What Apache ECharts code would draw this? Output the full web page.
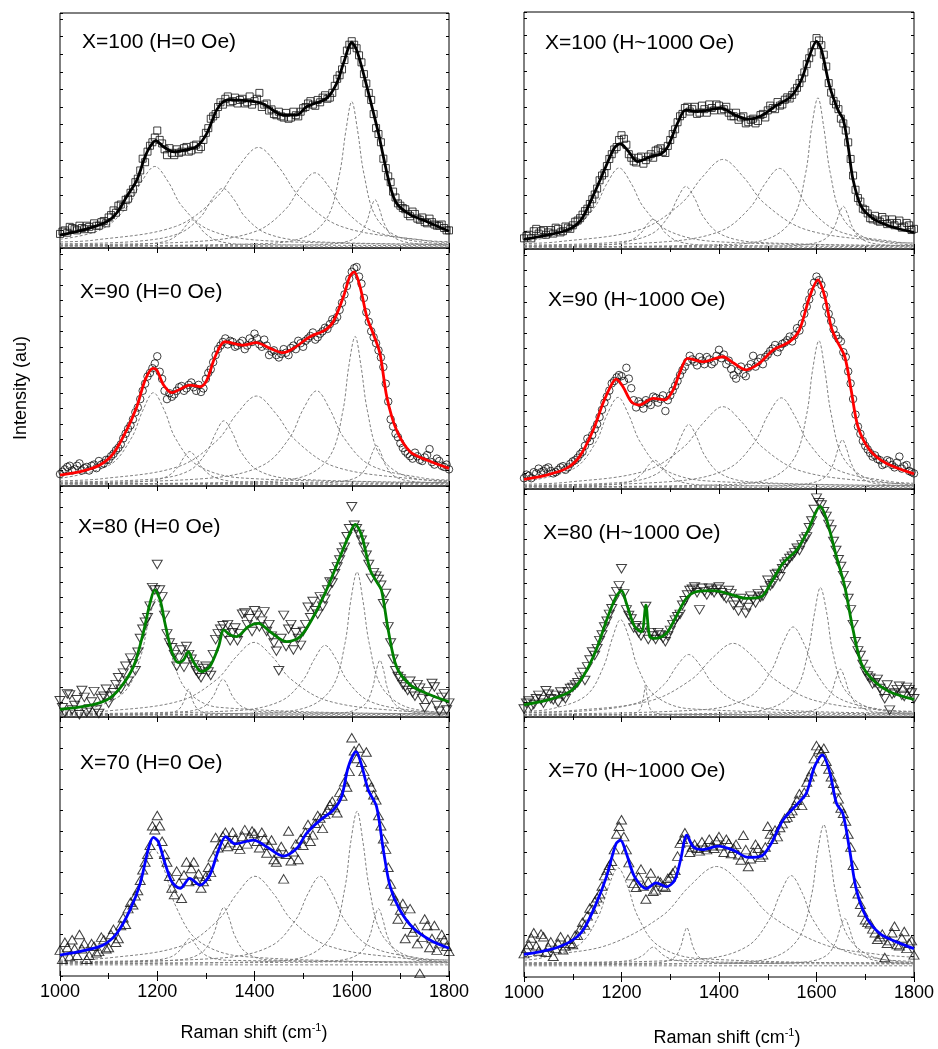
<!DOCTYPE html>
<html>
<head>
<meta charset="utf-8">
<title>Raman spectra</title>
<script src="https://cdn.jsdelivr.net/npm/echarts@6/dist/echarts.min.js"></script>
<style>
  html, body { margin: 0; padding: 0; background: #fff; }
  #chart { width: 938px; height: 1049px; }
</style>
</head>
<body>
<div id="chart"></div>
<script>
// Raman shift grids of the measured spectra (cm-1): whole tens and the points in between
const shift = [
  1000, 1010, 1020, 1030, 1040, 1050, 1060, 1070, 1080, 1090,
  1100, 1110, 1120, 1130, 1140, 1150, 1160, 1170, 1180, 1190,
  1200, 1210, 1220, 1230, 1240, 1250, 1260, 1270, 1280, 1290,
  1300, 1310, 1320, 1330, 1340, 1350, 1360, 1370, 1380, 1390,
  1400, 1410, 1420, 1430, 1440, 1450, 1460, 1470, 1480, 1490,
  1500, 1510, 1520, 1530, 1540, 1550, 1560, 1570, 1580, 1590,
  1600, 1610, 1620, 1630, 1640, 1650, 1660, 1670, 1680, 1690,
  1700, 1710, 1720, 1730, 1740, 1750, 1760, 1770, 1780, 1790,
  1800
];
const shiftMid = [
  1005, 1015, 1025, 1035, 1045, 1055, 1065, 1075, 1085, 1095,
  1105, 1115, 1125, 1135, 1145, 1155, 1165, 1175, 1185, 1195,
  1205, 1215, 1225, 1235, 1245, 1255, 1265, 1275, 1285, 1295,
  1305, 1315, 1325, 1335, 1345, 1355, 1365, 1375, 1385, 1395,
  1405, 1415, 1425, 1435, 1445, 1455, 1465, 1475, 1485, 1495,
  1505, 1515, 1525, 1535, 1545, 1555, 1565, 1575, 1585, 1595,
  1605, 1615, 1625, 1635, 1645, 1655, 1665, 1675, 1685, 1695,
  1705, 1715, 1725, 1735, 1745, 1755, 1765, 1775, 1785, 1795
];

// ---- measured intensities (au), H = 0 Oe column ----
const scatA100 = [
  6, 7.5, 9, 8, 9.5, 8, 9, 10.5, 9.5, 11.5,
  13, 16, 18, 17.5, 21, 25, 29.5, 38, 41, 45,
  50, 44.5, 39.5, 40.5, 42, 41, 43, 41.5, 44, 43,
  49, 55, 57, 62, 63.5, 62, 64, 63, 61.5, 64.5,
  62.5, 66, 61, 58.5, 57, 58, 55.5, 55, 58, 56,
  59.5, 61.5, 61, 63, 64, 63.5, 66, 72, 76, 84,
  88, 85, 79, 70, 63, 51, 45, 34, 28, 21.5,
  18, 16.5, 13.5, 14.5, 12, 11, 12.5, 10, 9.5, 8.5,
  7.5
];
const scatA100m = [
  7, 6.5, 8.5, 7.5, 8.5, 9.5, 8, 9.5, 11, 10.5,
  14, 15, 18.5, 20.5, 23.5, 28, 33, 36.5, 43.5, 47,
  46, 42, 42.5, 39.5, 40.5, 42.5, 41, 43.5, 42, 46,
  51, 56, 60, 61, 64.5, 62.5, 61.5, 63.5, 62, 61,
  63.5, 60, 61.5, 59, 56.5, 56, 57.5, 55.5, 56.5, 58,
  60, 62.5, 60.5, 62, 65, 64, 69, 73.5, 80, 86.5,
  86.5, 82, 74, 66, 57, 48.5, 38, 30.5, 24, 19,
  17, 14.5, 15.5, 12.5, 13, 10.5, 11, 9.5, 10, 7.5
];
const scatA90 = [
  5, 7, 8.5, 7, 9.5, 7.5, 6.5, 9, 10.5, 9.5,
  11, 13.5, 16, 20, 24, 28, 33, 40, 46, 49.5,
  54.5, 45, 36.5, 37.5, 40, 42, 41, 43.5, 40, 39.5,
  45, 49, 55, 59, 62, 61, 58.5, 60, 57.5, 62,
  64, 59.5, 61.5, 55, 57, 54, 57.5, 55, 59, 61,
  58.5, 62, 64.5, 62.5, 65, 66, 70, 71, 77, 84,
  90, 92, 85, 73, 65, 60, 54, 43, 28, 22,
  18, 14.5, 12.5, 14, 11, 12, 15.5, 9, 10.5, 8,
  7
];
const scatA90m = [
  6, 8, 6.5, 8.5, 6.5, 8, 8.5, 7.5, 9, 11,
  12.5, 15, 17.5, 22, 25.5, 31, 36.5, 43, 47.5, 51.5,
  48, 40, 39, 38.5, 41.5, 40, 42.5, 41.5, 42.5, 41,
  47.5, 52, 57.5, 60.5, 59.5, 60.5, 59, 61, 59, 60.5,
  62, 58.5, 59, 56.5, 55, 55.5, 56, 58, 57.5, 60,
  61, 63, 61.5, 64, 66.5, 68, 69.5, 74, 80.5, 87,
  91.5, 88, 79, 69, 62.5, 57, 50, 35.5, 25, 20.5,
  16, 13.5, 11.5, 12.5, 10.5, 13, 10, 11.5, 8.5, 9
];
const scatA80 = [
  7, 2, 9.5, 5, 1, 8.5, 3.5, 11, 1.5, 9,
  6, 10.5, 17, 19, 15.5, 23, 28, 38, 43, 56,
  66, 52, 36, 30, 22, 29, 30.5, 25, 20, 17,
  22, 18, 33.5, 38, 36, 33, 38.5, 36, 45, 42.5,
  46, 39, 45.5, 40, 32, 20, 44, 38, 29, 34,
  37, 47.5, 50, 44.5, 48, 55, 58, 65, 71, 78,
  91, 81.5, 76.5, 70, 60, 61, 57, 53.5, 32, 20,
  16.5, 13, 15.5, 9, 12.5, 4, 7.5, 13, 2.5, 10,
  6
];
const scatA80m = [
  4, 10, 3, 7.5, 11.5, 2, 6.5, 3, 8, 12,
  9, 14, 12, 22, 25.5, 20, 34, 41, 48, 55,
  55, 44, 32, 27, 25.5, 21.5, 27, 22.5, 18.5, 21,
  19.5, 27, 36, 39.5, 40, 36.5, 33, 44.5, 40, 37,
  44, 41.5, 37, 35, 28.5, 34, 30.5, 40, 36.5, 31,
  40, 43, 46, 52, 51, 58.5, 62, 68, 73.5, 81.5,
  83, 79, 73.5, 66, 62.5, 59.5, 49, 39, 25, 17.5,
  14, 11.5, 10.5, 14, 8, 11, 14.5, 5, 8.5, 3
];
const scatA70 = [
  10, 13, 7.5, 10.5, 16, 12.5, 8, 11.5, 9.5, 14,
  11, 18, 14.5, 22.5, 26, 27.5, 33, 41, 47, 58,
  62, 52, 44, 34, 40.5, 30, 44, 41.5, 37, 34,
  38.5, 40, 53.5, 51, 55.5, 51.5, 53, 49, 56.5, 54,
  55, 49.5, 53, 50.5, 45, 47.5, 37.5, 56, 48, 45,
  50.5, 58.5, 54.5, 62, 57, 64, 67.5, 63, 69.5, 73,
  92, 84, 82.5, 86.5, 73, 68, 58, 49, 35.5, 29,
  25.5, 14.5, 26, 18.5, 1, 22, 11, 19.5, 12.5, 14,
  9.5
];
const scatA70m = [
  6.5, 11, 14, 8, 10.5, 6.5, 12.5, 9, 15, 10.5,
  16, 13, 19.5, 20, 28.5, 31, 37, 44, 50.5, 56.5,
  58, 47, 38.5, 31.5, 36, 39, 36.5, 44, 39.5, 36.5,
  42, 46, 49.5, 54, 50, 55.5, 50.5, 54, 51, 56,
  52, 55.5, 47.5, 52.5, 44, 50, 47, 44.5, 51, 53,
  55.5, 52, 59, 61, 62.5, 66, 65, 71, 75, 79,
  87, 88, 79, 75, 70, 62, 53, 42, 31, 22,
  28, 20, 17, 12.5, 15, 19.5, 14.5, 10, 16, 11.5
];

// ---- measured intensities (au), H ~ 1000 Oe column ----
const scatB100 = [
  4.5, 6, 7.5, 6.5, 8, 7, 6.5, 8.5, 7.5, 9,
  10, 12, 14.5, 17, 21, 25.5, 31, 35, 40, 43,
  48, 44, 38.5, 36.5, 39, 37.5, 40, 41.5, 42.5, 40.5,
  46, 50.5, 56, 59.5, 58, 60, 57.5, 59, 61, 58.5,
  60.5, 59, 57.5, 56, 54.5, 56, 53.5, 55, 54, 57,
  58.5, 59.5, 62, 61, 64, 65, 68, 72, 78, 83,
  89, 86, 77, 66, 61, 55, 50, 38, 25, 20,
  16.5, 13, 14, 11.5, 12.5, 11, 10, 12, 9.5, 10,
  8.5
];
const scatB100m = [
  5.5, 4.5, 8.5, 7.5, 6, 8, 9, 7, 9.5, 8.5,
  11.5, 13, 16, 19, 23, 29, 32, 38, 42, 46,
  46.5, 40, 37, 38.5, 36, 39, 38.5, 42, 41, 43.5,
  48.5, 53.5, 57, 60, 59, 57, 60.5, 57.5, 59.5, 61,
  58.5, 60, 56, 57.5, 55.5, 53, 54.5, 53, 56.5, 55.5,
  60.5, 59, 60.5, 63, 63.5, 66.5, 70, 74.5, 80.5, 86,
  88, 82, 70, 62.5, 59, 53, 45, 31, 21.5, 17,
  15, 12.5, 12, 13.5, 10.5, 12.5, 11, 9, 11, 8
];
const scatB90 = [
  4.5, 5.5, 7, 8.5, 7.5, 9, 6.5, 8, 9.5, 9,
  11.5, 13, 15.5, 21, 22.5, 27, 33, 38.5, 44, 46.5,
  47, 50.5, 42, 34, 35.5, 37, 35, 38, 37.5, 32.5,
  39, 43, 47.5, 51, 55.5, 53, 55, 52, 54, 53,
  58, 56, 53.5, 47.5, 49.5, 48, 50.5, 55.5, 53, 52,
  56, 58.5, 57, 60.5, 62, 61.5, 67, 69, 76, 82,
  88.5, 85, 76, 70, 64, 61.5, 55, 44, 31, 23,
  18, 15, 14, 12, 10.5, 11.5, 9, 13.5, 9.5, 7.5,
  6.5
];
const scatB90m = [
  6, 4.5, 6.5, 7, 8.5, 7.5, 7, 9, 8, 10.5,
  12, 14.5, 18, 20, 25, 30, 36, 41, 45, 47.5,
  45, 46, 37, 36.5, 33.5, 36, 38.5, 36, 39, 37,
  41, 45, 49.5, 53, 54, 51.5, 53.5, 55, 52, 55.5,
  54.5, 52, 50, 46, 51, 47, 52, 51, 54.5, 55,
  57.5, 60, 59, 61, 63.5, 64, 66, 73, 79, 86,
  87, 81, 73, 66.5, 62.5, 57, 49, 37.5, 26, 20,
  16.5, 13.5, 12.5, 10, 12, 10, 11, 8.5, 10, 7
];
const scatB80 = [
  3.5, 7, 5.5, 9.5, 6, 10, 7.5, 6.5, 9, 11,
  13, 15, 19.5, 22, 28.5, 30, 36, 42, 47.5, 55,
  65, 47, 43, 40, 35.5, 48.5, 37, 34, 36, 33,
  38, 42.5, 45, 51, 55.5, 57, 47, 55, 56.5, 54.5,
  57, 53, 55.5, 49, 46.5, 50.5, 48, 51.5, 54, 53,
  60, 58.5, 63, 65, 68, 70.5, 74, 75.5, 79, 86,
  96, 93, 88, 82, 73, 66, 57.5, 47, 33, 27,
  20, 17, 15, 12.5, 8, 3, 10.5, 13.5, 9, 12,
  8
];
const scatB80m = [
  6, 4.5, 8, 7.5, 11.5, 8, 9.5, 11, 8, 12.5,
  14, 17.5, 16, 25, 27, 33.5, 39.5, 45, 51.5, 57.5,
  54, 44.5, 39, 37, 39, 34, 35.5, 37, 34.5, 35.5,
  40.5, 44, 49, 53.5, 56, 54.5, 56.5, 53.5, 55.5, 56,
  54.5, 52, 54, 50.5, 52, 45.5, 53, 50, 52.5, 55.5,
  57.5, 62.5, 61.5, 67, 69.5, 72, 73, 78, 83, 91,
  94, 90, 84.5, 77, 69, 62, 52, 40.5, 29, 23,
  18, 14.5, 16.5, 11, 14, 10, 12, 9.5, 13, 10.5
];
const scatB70 = [
  9, 12.5, 17, 10, 15.5, 11.5, 8, 13, 10.5, 14.5,
  12.5, 16, 21, 23.5, 26, 30.5, 35, 41, 44.5, 55,
  60.5, 49, 39, 34.5, 41.5, 30, 40, 33.5, 36.5, 34.5,
  38.5, 41, 51.5, 55.5, 48, 51, 48.5, 50, 53, 49.5,
  54, 48, 51.5, 49.5, 47, 54.5, 42.5, 48, 49.5, 47,
  58, 53, 54, 59, 61.5, 64, 68, 66, 75, 79,
  89, 86.5, 83, 77, 72, 65, 60, 50, 36, 28,
  22, 20.5, 17, 15.5, 7.5, 14, 19.5, 12, 17.5, 13,
  8.5
];
const scatB70m = [
  11, 15, 12, 16.5, 9.5, 13.5, 11, 15.5, 12, 13,
  16, 18.5, 20, 26.5, 29, 32, 39, 43, 49, 58,
  54, 44, 36, 38.5, 35, 36.5, 33, 37, 35, 38,
  40, 46.5, 53, 52, 50, 49.5, 52, 49, 50.5, 52.5,
  50.5, 53, 47.5, 51, 45, 49, 45.5, 51, 46, 50,
  55, 56.5, 57.5, 61, 63, 66, 70.5, 71, 77, 84,
  87.5, 88, 80, 74.5, 68.5, 63, 55, 43, 32, 25,
  21, 18.5, 14.5, 16.5, 13, 17, 12.5, 15, 11, 14
];

// ---- fitted envelopes [shift, intensity] ----
const fitA100 = [[1000,5.5],[1048,7.7],[1096,11.2],[1117,15],[1137,21.8],[1158,28.9],[1175,38.9],[1185,43.1],[1197,45.7],[1212,43.2],[1233,41],[1260,41.8],[1281,43.1],[1302,48.8],[1322,58.7],[1336,62.3],[1350,63],[1391,62.5],[1418,61.3],[1459,56.6],[1487,56.6],[1507,60.1],[1548,63.7],[1569,70.1],[1583,78.6],[1600,87.4],[1610,84.3],[1624,74.3],[1638,63],[1655,48.8],[1665,38.9],[1679,26.2],[1692,19.1],[1720,14.2],[1754,11.3],[1800,7.1]];
const fitA90 = [[1000,4.6],[1048,6.4],[1082,8.8],[1110,13.7],[1137,23.5],[1158,33.3],[1175,44.5],[1191,49.4],[1199,48.7],[1213,42.4],[1230,39.2],[1250,41],[1267,42.4],[1288,41.7],[1302,44.5],[1319,54.3],[1339,60.6],[1377,59.2],[1404,60.2],[1432,57.8],[1459,56],[1480,57.8],[1514,62.7],[1545,65.5],[1562,69],[1583,79.6],[1596,88],[1605,90],[1617,83.8],[1631,71.1],[1644,64.1],[1658,55.7],[1672,37.5],[1692,23.5],[1720,14.4],[1754,10.9],[1800,7.4]];
const fitA80 = [[1000,3.3],[1055,4.8],[1096,7.4],[1123,12.4],[1151,21.8],[1171,36.2],[1185,49.2],[1195,55],[1206,50.6],[1216,40.5],[1230,28.3],[1243,23.5],[1254,24.7],[1264,28.3],[1274,24],[1291,19.6],[1308,21.8],[1326,30.4],[1337,37.7],[1350,35.5],[1363,34.8],[1387,39.1],[1408,40.5],[1432,36.9],[1466,32.6],[1494,34.8],[1521,43.4],[1548,55],[1576,69.4],[1596,79.5],[1607,83.4],[1620,78.8],[1638,63.6],[1651,58.6],[1661,55],[1675,37.7],[1692,21.8],[1720,13.9],[1754,10.2],[1800,6.6]];
const fitA70 = [[1000,8.1],[1048,9.8],[1089,12],[1117,16.5],[1144,25.5],[1165,35.8],[1182,49.3],[1192,53.5],[1202,51.9],[1216,43.5],[1230,36.4],[1247,33.8],[1267,37.7],[1288,35.1],[1308,39],[1326,48.6],[1341,53.8],[1360,51],[1398,52.5],[1425,49.9],[1459,46.3],[1487,49.3],[1507,55.1],[1535,60.2],[1562,64.1],[1579,69.2],[1593,80.8],[1609,86.6],[1620,81.5],[1634,71.8],[1651,65.4],[1665,48.6],[1679,34.5],[1699,25.5],[1727,18.4],[1761,13.9],[1800,10.7]];
const fitB100 = [[1000,4.1],[1048,5.9],[1089,8],[1117,12.3],[1144,23.5],[1165,33.4],[1185,42.5],[1197,44.4],[1212,41.8],[1233,36.9],[1260,39],[1281,40.1],[1295,43.2],[1315,53.1],[1332,58.7],[1356,58],[1404,59.4],[1432,56.6],[1459,54.8],[1487,56.2],[1514,60.1],[1548,64.4],[1569,71.4],[1583,79.9],[1600,87.6],[1610,84.1],[1627,68.6],[1644,58.7],[1655,54.5],[1665,43.2],[1675,29.2],[1692,17.9],[1720,12.3],[1754,9.4],[1800,7]];
const fitB90 = [[1000,4],[1046,5.8],[1087,8.6],[1114,13.5],[1142,24.6],[1162,35.7],[1179,43.3],[1189,45.8],[1203,42.6],[1220,36.4],[1237,35],[1265,37.8],[1289,37.1],[1306,41.3],[1319,48.2],[1336,54.4],[1367,53],[1408,55.1],[1429,52.6],[1456,49.6],[1483,52.4],[1511,57.9],[1545,61.4],[1565,66.3],[1586,80.1],[1603,87.1],[1617,80.1],[1630,67.6],[1641,62.1],[1658,55.1],[1671,41.3],[1685,26],[1709,16.3],[1743,10.7],[1800,6.3]];
const fitB80 = [[1000,5.3],[1053,7.7],[1094,11.1],[1121,17.7],[1148,29.4],[1172,44],[1189,52.8],[1200,55.4],[1210,49.9],[1227,39.6],[1241,37.4],[1250,49.1],[1258,35.2],[1271,34.5],[1292,36.7],[1312,44],[1333,52],[1354,55],[1388,55.4],[1422,53.9],[1456,52],[1487,52.8],[1504,57.9],[1531,67.4],[1559,73.2],[1583,82],[1596,88.6],[1607,92.5],[1620,87.1],[1641,70.3],[1658,57.2],[1675,38.2],[1692,23.5],[1716,16.2],[1750,11.1],[1800,7.7]];
const fitB70 = [[1000,8.7],[1053,10.5],[1094,13.5],[1121,18],[1148,28.2],[1169,38.5],[1189,51.3],[1198,52.6],[1210,47.5],[1227,38.5],[1251,34],[1271,36.2],[1292,34.7],[1309,37.2],[1321,44.9],[1334,54.6],[1347,50.1],[1367,49],[1398,50.3],[1429,48.8],[1460,46],[1487,46.5],[1507,51.3],[1531,60.3],[1562,66.8],[1579,70.6],[1596,80.9],[1612,85.4],[1627,78.9],[1641,66.8],[1654,62.9],[1668,48.8],[1682,33.4],[1702,23.1],[1730,16.7],[1764,13.5],[1800,10.9]];

// ---- fitted components (dashed), each list is [shift, intensity] ----
const compA100 = [
  [[1000,3.7],[1085,7.9],[1140,18],[1167,28],[1195,34.7],[1223,28],[1250,18],[1305,7.9],[1415,3.2],[1800,1.5]],
  [[1000,1.1],[1172,1.6],[1222,3.2],[1247,6.5],[1260,9.8],[1272,12],[1284,9.8],[1297,6.5],[1322,3.2],[1372,1.6],[1800,1]],
  [[1000,1.8],[1155,2.8],[1245,6.2],[1290,13.4],[1312,20.6],[1335,25.4],[1358,20.6],[1380,13.4],[1425,6.2],[1515,2.8],[1800,1.6]],
  [[1000,2.6],[1068,3.3],[1238,9.2],[1323,21.8],[1366,34.4],[1408,42.8],[1450,34.4],[1493,21.8],[1578,9.2],[1748,3.3],[1800,2.7]],
  [[1000,1.4],[1284,2.8],[1404,7.2],[1464,16.5],[1494,25.8],[1524,32],[1554,25.8],[1584,16.5],[1644,7.2],[1764,2.8],[1800,2.4]],
  [[1000,0.9],[1400,1.75],[1500,4.4],[1550,13.1],[1575,31.6],[1588,50],[1600,62.3],[1612,50],[1625,31.6],[1650,13.1],[1700,4.4],[1800,1.75]],
  [[1000,1],[1500,1.3],[1576,2.15],[1612,4.9],[1630,10.75],[1639,16.6],[1648,20.5],[1657,16.6],[1666,10.75],[1684,4.9],[1720,2.15],[1800,1.3]],
  [[1000,0.5],[1800,0.5]]
];
const compA90 = [
  [[1000,3.2],[1102,8.8],[1147,20.2],[1170,31.6],[1192,39.2],[1215,31.6],[1237,20.2],[1282,8.8],[1372,3.4],[1800,1.4]],
  [[1000,1.1],[1167,1.8],[1217,3.7],[1242,7.75],[1254,11.8],[1267,14.5],[1280,11.8],[1292,7.75],[1317,3.7],[1367,1.8],[1800,1]],
  [[1000,1.7],[1197,3],[1267,6.6],[1302,14.4],[1320,22.2],[1337,27.4],[1355,22.2],[1372,14.4],[1407,6.6],[1477,3],[1800,1.5]],
  [[1000,2.2],[1084,3],[1244,8.2],[1324,19.3],[1364,30.4],[1404,37.8],[1444,30.4],[1484,19.3],[1564,8.2],[1724,3],[1800,2.2]],
  [[1000,1.4],[1308,3.3],[1418,8.8],[1473,20.5],[1500,32.2],[1528,40],[1555,32.2],[1583,20.5],[1638,8.8],[1748,3.3],[1800,2.5]],
  [[1000,0.9],[1407,1.75],[1507,4.45],[1557,13.2],[1582,31.8],[1594,50.4],[1607,62.8],[1619,50.4],[1632,31.8],[1657,13.2],[1707,4.45],[1800,1.8]],
  [[1000,1],[1500,1.2],[1579,1.95],[1615,4.2],[1633,9],[1642,13.8],[1651,17],[1660,13.8],[1669,9],[1687,4.2],[1723,1.95],[1800,1.2]],
  [[1000,0.5],[1800,0.5]]
];
const compA80 = [
  [[1000,2.5],[1070,4.2],[1134,11.2],[1166,26.2],[1182,41.2],[1198,51.2],[1214,41.2],[1230,26.2],[1262,11.2],[1326,4.2],[1800,1.3]],
  [[1000,1],[1180,1.15],[1224,1.65],[1244,3.2],[1254,6.5],[1259,9.8],[1264,12],[1269,9.8],[1274,6.5],[1284,3.2],[1304,1.65],[1800,1]],
  [[1000,1.45],[1255,2.3],[1295,4.4],[1315,8.9],[1325,13.4],[1335,16.4],[1345,13.4],[1355,8.9],[1375,4.4],[1415,2.3],[1800,1.45]],
  [[1000,1.9],[1099,2.65],[1249,7.1],[1324,16.55],[1362,26],[1399,32.3],[1437,26],[1474,16.55],[1549,7.1],[1699,2.65],[1800,2]],
  [[1000,1.2],[1365,2.8],[1455,7],[1500,16],[1523,25],[1545,31],[1568,25],[1590,16],[1635,7],[1725,2.8],[1800,1.9]],
  [[1000,0.9],[1411,1.75],[1511,4.45],[1561,13.2],[1586,31.8],[1598,50.4],[1611,62.8],[1623,50.4],[1636,31.8],[1661,13.2],[1711,4.45],[1800,1.9]],
  [[1000,1],[1550,1.45],[1598,2.4],[1628,5.7],[1643,12.75],[1650,19.8],[1658,24.5],[1666,19.8],[1673,12.75],[1688,5.7],[1718,2.4],[1800,1.25]],
  [[1000,0.5],[1800,0.5]]
];
const compA70 = [
  [[1000,7.3],[1103,13.8],[1148,27],[1170,40.2],[1193,49],[1216,40.2],[1238,27],[1283,13.8],[1373,7.6],[1800,5.25]],
  [[1000,5.55],[1187,6.05],[1227,7.3],[1247,10],[1257,12.7],[1267,14.5],[1277,12.7],[1287,10],[1307,7.3],[1347,6.05],[1800,5.5]],
  [[1000,5.1],[1249,6.3],[1293,9.3],[1315,15.75],[1326,22.2],[1337,26.5],[1348,22.2],[1359,15.75],[1381,9.3],[1425,6.3],[1800,5.05]],
  [[1000,6.1],[1101,7],[1251,11.7],[1326,21.75],[1364,31.8],[1401,38.5],[1439,31.8],[1476,21.75],[1551,11.7],[1701,7],[1800,6.15]],
  [[1000,5.3],[1335,7],[1435,11.7],[1485,21.75],[1510,31.8],[1535,38.5],[1560,31.8],[1585,21.75],[1635,11.7],[1735,7],[1800,6.15]],
  [[1000,4.7],[1411,5.5],[1511,8],[1561,16.4],[1586,34.1],[1598,51.8],[1611,63.6],[1623,51.8],[1636,34.1],[1661,16.4],[1711,8],[1800,5.4]],
  [[1000,5],[1500,5.3],[1583,6.25],[1619,9.2],[1637,15.5],[1646,21.8],[1655,26],[1664,21.8],[1673,15.5],[1691,9.2],[1727,6.25],[1800,5.3]],
  [[1000,4.3],[1800,4.3]]
];
const compB100 = [
  [[1000,3.2],[1095,7.8],[1145,17.7],[1170,27.6],[1195,34.2],[1220,27.6],[1245,17.7],[1295,7.8],[1395,3.1],[1800,1.4]],
  [[1000,1.1],[1165,1.7],[1215,3.3],[1240,6.75],[1252,10.2],[1265,12.5],[1278,10.2],[1290,6.75],[1315,3.3],[1365,1.7],[1800,1]],
  [[1000,1.7],[1192,2.9],[1262,6.4],[1297,13.9],[1315,21.4],[1332,26.4],[1350,21.4],[1367,13.9],[1402,6.4],[1472,2.9],[1800,1.5]],
  [[1000,2.3],[1068,3],[1238,8.2],[1323,19.3],[1366,30.4],[1408,37.8],[1450,30.4],[1493,19.3],[1578,8.2],[1748,3],[1800,2.5]],
  [[1000,1.4],[1284,2.95],[1404,7.6],[1464,17.5],[1494,27.4],[1524,34],[1554,27.4],[1584,17.5],[1644,7.6],[1764,2.95],[1800,2.5]],
  [[1000,0.9],[1403,1.8],[1503,4.5],[1553,13.4],[1578,32.3],[1590,51.2],[1603,63.8],[1615,51.2],[1628,32.3],[1653,13.4],[1703,4.5],[1800,1.8]],
  [[1000,1],[1500,1.2],[1583,2],[1619,4.4],[1637,9.5],[1646,14.6],[1655,18],[1664,14.6],[1673,9.5],[1691,4.4],[1727,2],[1800,1.3]],
  [[1000,0.5],[1800,0.5]]
];
const compB90 = [
  [[1000,3.1],[1103,8.6],[1148,19.7],[1170,30.8],[1193,38.2],[1215,30.8],[1238,19.7],[1283,8.6],[1373,3.4],[1800,1.4]],
  [[1000,1.1],[1168,1.65],[1218,3.2],[1243,6.5],[1255,9.8],[1268,12],[1281,9.8],[1293,6.5],[1318,3.2],[1368,1.65],[1800,1]],
  [[1000,1.6],[1210,2.9],[1274,6.5],[1306,14.2],[1322,21.8],[1338,26.9],[1354,21.8],[1370,14.2],[1402,6.5],[1466,2.9],[1800,1.5]],
  [[1000,2],[1088,2.8],[1248,7.5],[1328,17.55],[1368,27.6],[1408,34.3],[1448,27.6],[1488,17.55],[1568,7.5],[1728,2.8],[1800,2.1]],
  [[1000,1.4],[1308,3.2],[1418,8.4],[1473,19.5],[1500,30.6],[1528,38],[1555,30.6],[1583,19.5],[1638,8.4],[1748,3.2],[1800,2.4]],
  [[1000,0.9],[1405,1.75],[1505,4.4],[1555,13],[1580,31.3],[1592,49.6],[1605,61.8],[1617,49.6],[1630,31.3],[1655,13],[1705,4.4],[1800,1.8]],
  [[1000,1],[1500,1.3],[1581,2.15],[1617,4.9],[1635,10.75],[1644,16.6],[1653,20.5],[1662,16.6],[1671,10.75],[1689,4.9],[1725,2.15],[1800,1.3]],
  [[1000,0.5],[1800,0.5]]
];
const compB80 = [
  [[1000,2.45],[1058,3.65],[1128,9.5],[1163,22],[1181,34.4],[1198,42.7],[1216,34.4],[1233,22],[1268,9.5],[1338,3.65],[1800,1.35]],
  [[1000,1],[1200,1.15],[1229,1.75],[1239,3.6],[1244,7.5],[1247,11.4],[1249,14],[1251,11.4],[1254,7.5],[1259,3.6],[1269,1.75],[1300,1.15],[1800,1]],
  [[1000,1.95],[1138,2.9],[1238,6.6],[1288,14.4],[1313,22.2],[1338,27.4],[1363,22.2],[1388,14.4],[1438,6.6],[1538,2.9],[1800,1.7]],
  [[1000,2],[1089,2.65],[1259,7.1],[1344,16.55],[1387,26],[1429,32.3],[1472,26],[1514,16.55],[1599,7.1],[1769,2.65],[1800,2.5]],
  [[1000,1.3],[1372,3.3],[1462,8.7],[1507,20.25],[1530,31.8],[1552,39.5],[1575,31.8],[1597,20.25],[1642,8.7],[1732,3.3],[1800,2.2]],
  [[1000,0.9],[1408,1.65],[1508,4.1],[1558,12],[1583,28.8],[1596,45.6],[1608,56.8],[1621,45.6],[1633,28.8],[1658,12],[1708,4.1],[1800,1.6]],
  [[1000,1],[1500,1.3],[1577,2.2],[1613,5],[1631,11],[1640,17],[1649,21],[1658,17],[1667,11],[1685,5],[1721,2.2],[1800,1.3]],
  [[1000,0.5],[1800,0.5]]
];
const compB70 = [
  [[1000,6.5],[1033,7.2],[1113,12.4],[1153,23.5],[1173,34.6],[1193,42],[1213,34.6],[1233,23.5],[1273,12.4],[1353,7.2],[1800,5.2]],
  [[1000,5.5],[1185,5.85],[1225,6.7],[1245,8.5],[1255,10.3],[1265,11.5],[1275,10.3],[1285,8.5],[1305,6.7],[1345,5.85],[1800,5.5]],
  [[1000,5],[1250,5.3],[1286,5.8],[1310,7.8],[1322,12],[1328,16.2],[1334,19],[1340,16.2],[1346,12],[1358,7.8],[1382,5.8],[1420,5.3],[1800,5]],
  [[1000,7.7],[1065,8.75],[1175,12.5],[1285,23.75],[1340,35],[1395,42.5],[1450,35],[1505,23.75],[1615,12.5],[1725,8.75],[1800,7.6]],
  [[1000,5.3],[1368,7],[1458,11.8],[1503,22],[1526,32.2],[1548,39],[1571,32.2],[1593,22],[1638,11.8],[1728,7],[1800,6.05]],
  [[1000,4.7],[1415,5.4],[1515,7.8],[1565,15.4],[1590,31.6],[1602,47.8],[1615,58.6],[1627,47.8],[1640,31.6],[1665,15.4],[1715,7.8],[1800,5.6]],
  [[1000,5],[1500,5.25],[1586,6],[1622,8.5],[1640,13.75],[1649,19],[1658,22.5],[1667,19],[1676,13.75],[1694,8.5],[1730,6],[1800,5.3]],
  [[1000,4.3],[1800,4.3]]
];

const panelNames = [
  'X=100 (H=0 Oe)', 'X=90 (H=0 Oe)', 'X=80 (H=0 Oe)', 'X=70 (H=0 Oe)',
  'X=100 (H~1000 Oe)', 'X=90 (H~1000 Oe)', 'X=80 (H~1000 Oe)', 'X=70 (H~1000 Oe)'
];
const panelScat = [scatA100, scatA90, scatA80, scatA70, scatB100, scatB90, scatB80, scatB70];
const panelScatMid = [scatA100m, scatA90m, scatA80m, scatA70m, scatB100m, scatB90m, scatB80m, scatB70m];
const panelFit = [fitA100, fitA90, fitA80, fitA70, fitB100, fitB90, fitB80, fitB70];
const panelComps = [compA100, compA90, compA80, compA70, compB100, compB90, compB80, compB70];

// layout (pixels) – one box per panel, left column first
const boxes = [
  { left: 60, width: 389, top: 13, height: 235, lx: 82, ly: 42, yi: 7.5 },
  { left: 60, width: 389, top: 248, height: 238, lx: 80, ly: 292, yi: 6.5 },
  { left: 60, width: 389, top: 486, height: 231, lx: 78, ly: 527, yi: 6.5 },
  { left: 60, width: 389, top: 717, height: 259, lx: 80, ly: 763, yi: 8 },
  { left: 524, width: 390, top: 12, height: 237, lx: 545, ly: 43, yi: 7.5 },
  { left: 524, width: 390, top: 249, height: 240, lx: 548, ly: 300, yi: 6.5 },
  { left: 524, width: 390, top: 489, height: 228, lx: 543, ly: 533, yi: 6.5 },
  { left: 524, width: 390, top: 717, height: 260, lx: 548, ly: 771, yi: 8 }
];
const rowSymbol = ['rect', 'circle', 'triangle', 'triangle'];
const rowRotate = [0, 0, 180, 0];
const rowSize = [7, 7.5, [10, 8.5], [10, 8.5]];
const rowColor = ['#000000', '#ff0000', '#008000', '#0000ff'];
const FONT = '"Liberation Sans", Arial, Helvetica, sans-serif';

const grid = [], xAxis = [], yAxis = [], series = [], graphic = [];

boxes.forEach(function (b, i) {
  const row = i % 4;
  const bottom = row === 3;
  grid.push({ left: b.left, top: b.top, width: b.width, height: b.height,
    show: true, borderColor: '#000', borderWidth: 1, backgroundColor: 'transparent' });

  const xBase = {
    gridIndex: i, type: 'value', min: 1000, max: 1800, interval: 200,
    axisLine: { show: false }, splitLine: { show: false },
    axisTick: { show: true, inside: true, length: 5, lineStyle: { color: '#000', width: 1 } },
    minorTick: { show: true, splitNumber: 2, length: 3, lineStyle: { color: '#000', width: 1 } }
  };
  xAxis.push(Object.assign({}, xBase, { position: 'bottom',
    axisLabel: { show: bottom, margin: 7, fontSize: 18, color: '#000', fontFamily: FONT,
      showMinLabel: true, showMaxLabel: true, formatter: function (v) { return String(v); } } }));
  xAxis.push(Object.assign({}, xBase, { position: 'top', axisLabel: { show: false } }));

  const yBase = {
    gridIndex: i, type: 'value', min: 0, max: 100, interval: b.yi,
    axisLine: { show: false }, splitLine: { show: false }, axisLabel: { show: false },
    axisTick: { show: true, inside: true, length: 3, lineStyle: { color: '#000', width: 1 } }
  };
  yAxis.push(Object.assign({}, yBase, { position: 'left' }));
  yAxis.push(Object.assign({}, yBase, { position: 'right' }));

  const xi = 2 * i, yi = 2 * i;
  panelComps[i].forEach(function (c) {
    series.push({ type: 'line', xAxisIndex: xi, yAxisIndex: yi, data: c, smooth: 0.35,
      symbol: 'none', silent: true, z: 1,
      lineStyle: { color: '#808080', width: 1, type: [3, 2] } });
  });
  const pts = shift.map(function (x, j) { return [x, panelScat[i][j]]; })
    .concat(shiftMid.map(function (x, j) { return [x, panelScatMid[i][j]]; }));
  series.push({ type: 'scatter', xAxisIndex: xi, yAxisIndex: yi, z: 2, data: pts,
    symbol: rowSymbol[row], symbolRotate: rowRotate[row], symbolSize: rowSize[row],
    itemStyle: { color: 'rgba(0,0,0,0)', borderColor: '#111', borderWidth: 1 } });
  series.push({ type: 'line', xAxisIndex: xi, yAxisIndex: yi, data: panelFit[i], smooth: 0.3,
    symbol: 'none', z: 4, lineStyle: { color: rowColor[row], width: 2.8 } });

  graphic.push({ type: 'text', x: b.lx, y: b.ly, z: 10,
    style: { text: panelNames[i], fontSize: 21, fontFamily: FONT, fill: '#000',
      align: 'left', verticalAlign: 'middle' } });
});

graphic.push({ type: 'text', x: 21, y: 388, rotation: Math.PI / 2,
  style: { text: 'Intensity (au)', fontSize: 18, fontFamily: FONT, fill: '#000',
    align: 'center', verticalAlign: 'middle' } });
[[254, 1033], [727, 1038]].forEach(function (p) {
  graphic.push({ type: 'text', x: p[0], y: p[1],
    style: { text: 'Raman shift (cm{sup|-1})', fontSize: 18, fontFamily: FONT, fill: '#000',
      align: 'center', verticalAlign: 'middle',
      rich: { sup: { fontSize: 11, fontFamily: FONT, fill: '#000', padding: [0, 0, 10, 0] } } } });
});

const chart = echarts.init(document.getElementById('chart'), null, { renderer: 'canvas' });
chart.setOption({
  animation: false,
  backgroundColor: '#fff',
  grid: grid, xAxis: xAxis, yAxis: yAxis, series: series, graphic: graphic
});
</script>
</body>
</html>
